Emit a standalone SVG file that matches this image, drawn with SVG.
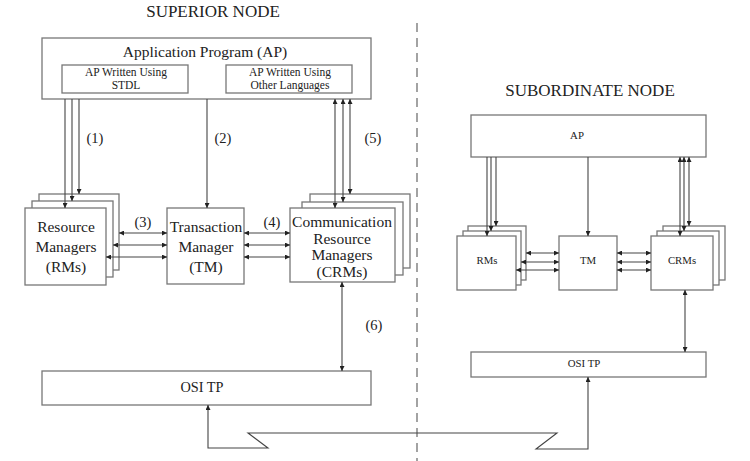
<svg xmlns="http://www.w3.org/2000/svg" width="750" height="461" viewBox="0 0 750 461" font-family="'Liberation Serif', 'DejaVu Serif', serif">
<style>
.box{fill:#fff;stroke:#777;stroke-width:1.3}
.ln{fill:none;stroke:#444;stroke-width:1.1}
text{font-family:'Liberation Serif','DejaVu Serif',serif;fill:#222;text-anchor:middle}
.ttl{font-size:17px}
.m{font-size:15.5px}
.s{font-size:11.5px}
.xs{font-size:10.8px}
.lb{font-size:14.5px}
</style>
<defs>
<marker id="ah" viewBox="0 0 10 10" refX="10" refY="5" markerWidth="6" markerHeight="5" markerUnits="userSpaceOnUse" orient="auto-start-reverse">
<path d="M0,0 L10,5 L0,10 z" fill="#222"/>
</marker>
</defs>
<rect width="750" height="461" fill="#fff"/>
<text class="ttl" x="213" y="17">SUPERIOR NODE</text>
<text class="ttl" x="590" y="96">SUBORDINATE NODE</text>
<line x1="417" y1="23" x2="417" y2="461" stroke="#666" stroke-width="1.2" stroke-dasharray="9,6"/>

<g id="sup-ap">
<rect class="box" x="42" y="38" width="329" height="61"/>
<text class="m" x="205" y="57">Application Program (AP)</text>
<rect class="box" x="62" y="65" width="126" height="28"/>
<text class="s" x="126" y="75.5">AP Written Using</text>
<text class="s" x="126" y="88.5">STDL</text>
<rect class="box" x="226" y="65" width="126" height="28"/>
<text class="s" x="290" y="75.5">AP Written Using</text>
<text class="s" x="290" y="88.5">Other Languages</text>
</g>
<g id="sup-rms">
<rect class="box" x="39" y="194" width="80" height="76"/>
<rect class="box" x="32" y="201" width="81" height="76"/>
<rect class="box" x="25" y="208" width="81" height="77"/>
<text class="m" x="66" y="232">Resource</text>
<text class="m" x="66" y="252">Managers</text>
<text class="m" x="66" y="272">(RMs)</text>
</g>
<g id="sup-tm">
<rect class="box" x="167" y="208" width="77" height="76"/>
<text class="m" x="206" y="232">Transaction</text>
<text class="m" x="206" y="252">Manager</text>
<text class="m" x="206" y="272">(TM)</text>
</g>
<g id="sup-crms">
<rect class="box" x="310" y="194" width="100" height="74"/>
<rect class="box" x="302" y="202" width="101" height="73"/>
<rect class="box" x="290" y="208" width="105" height="74"/>
<text class="m" x="342" y="227">Communication</text>
<text class="m" x="342" y="244">Resource</text>
<text class="m" x="342" y="260">Managers</text>
<text class="m" x="342" y="277">(CRMs)</text>
</g>
<g id="sup-osi">
<rect class="box" x="42" y="371" width="329" height="34"/>
<text style="font-size:14.3px" x="202" y="392">OSI TP</text>
</g>

<g id="sub-ap">
<rect class="box" x="471" y="115" width="235" height="42"/>
<text class="xs" x="577" y="139">AP</text>
</g>
<g id="sub-rms">
<rect class="box" x="468" y="226" width="58" height="54"/>
<rect class="box" x="463" y="231" width="58" height="54"/>
<rect class="box" x="457" y="236" width="59" height="54"/>
<text class="xs" x="487" y="264">RMs</text>
</g>
<g id="sub-tm">
<rect class="box" x="559" y="236" width="58" height="54"/>
<text class="xs" x="588" y="264">TM</text>
</g>
<g id="sub-crms">
<rect class="box" x="663" y="226" width="62" height="54"/>
<rect class="box" x="657" y="231" width="62" height="54"/>
<rect class="box" x="651" y="236" width="62" height="54"/>
<text class="xs" x="682" y="264">CRMs</text>
</g>
<g id="sub-osi">
<rect class="box" x="471" y="352" width="235" height="25"/>
<text class="xs" x="584" y="367">OSI TP</text>
</g>

<g id="connectors">
<line class="ln" x1="65" y1="99" x2="65" y2="208" marker-end="url(#ah)"/>
<line class="ln" x1="72" y1="99" x2="72" y2="201" marker-end="url(#ah)"/>
<line class="ln" x1="79" y1="99" x2="79" y2="194" marker-end="url(#ah)"/>
<line class="ln" x1="207" y1="99" x2="207" y2="208" marker-end="url(#ah)"/>
<line class="ln" x1="335" y1="99" x2="335" y2="208" marker-start="url(#ah)" marker-end="url(#ah)"/>
<line class="ln" x1="343" y1="99" x2="343" y2="202" marker-start="url(#ah)" marker-end="url(#ah)"/>
<line class="ln" x1="350" y1="99" x2="350" y2="194" marker-start="url(#ah)" marker-end="url(#ah)"/>
<line class="ln" x1="119" y1="233" x2="167" y2="233" marker-start="url(#ah)" marker-end="url(#ah)"/>
<line class="ln" x1="113" y1="245" x2="167" y2="245" marker-start="url(#ah)" marker-end="url(#ah)"/>
<line class="ln" x1="106" y1="257" x2="167" y2="257" marker-start="url(#ah)" marker-end="url(#ah)"/>
<line class="ln" x1="244" y1="233" x2="290" y2="233" marker-start="url(#ah)" marker-end="url(#ah)"/>
<line class="ln" x1="244" y1="245" x2="290" y2="245" marker-start="url(#ah)" marker-end="url(#ah)"/>
<line class="ln" x1="244" y1="257" x2="290" y2="257" marker-start="url(#ah)" marker-end="url(#ah)"/>
<line class="ln" x1="342" y1="282" x2="342" y2="371" marker-start="url(#ah)" marker-end="url(#ah)"/>
<path class="ln" d="M208,405 V448 H268 L248,433 H557 L536,449 H588 V377" marker-start="url(#ah)" marker-end="url(#ah)"/>
<line class="ln" x1="487" y1="157" x2="487" y2="236" marker-end="url(#ah)"/>
<line class="ln" x1="491" y1="157" x2="491" y2="231" marker-end="url(#ah)"/>
<line class="ln" x1="496" y1="157" x2="496" y2="226" marker-end="url(#ah)"/>
<line class="ln" x1="588" y1="157" x2="588" y2="236" marker-end="url(#ah)"/>
<line class="ln" x1="680" y1="157" x2="680" y2="236" marker-start="url(#ah)" marker-end="url(#ah)"/>
<line class="ln" x1="684" y1="157" x2="684" y2="231" marker-start="url(#ah)" marker-end="url(#ah)"/>
<line class="ln" x1="689" y1="157" x2="689" y2="226" marker-start="url(#ah)" marker-end="url(#ah)"/>
<line class="ln" x1="526" y1="253" x2="559" y2="253" marker-start="url(#ah)" marker-end="url(#ah)"/>
<line class="ln" x1="521" y1="262" x2="559" y2="262" marker-start="url(#ah)" marker-end="url(#ah)"/>
<line class="ln" x1="516" y1="270" x2="559" y2="270" marker-start="url(#ah)" marker-end="url(#ah)"/>
<line class="ln" x1="617" y1="253" x2="651" y2="253" marker-start="url(#ah)" marker-end="url(#ah)"/>
<line class="ln" x1="617" y1="262" x2="651" y2="262" marker-start="url(#ah)" marker-end="url(#ah)"/>
<line class="ln" x1="617" y1="270" x2="651" y2="270" marker-start="url(#ah)" marker-end="url(#ah)"/>
<line class="ln" x1="685" y1="290" x2="685" y2="352" marker-start="url(#ah)" marker-end="url(#ah)"/>
</g>
<g id="labels">
<text class="lb" x="95" y="143">(1)</text>
<text class="lb" x="223" y="143">(2)</text>
<text class="lb" x="373" y="143">(5)</text>
<text class="lb" x="143" y="227">(3)</text>
<text class="lb" x="272" y="227">(4)</text>
<text class="lb" x="374" y="330">(6)</text>
</g>
</svg>
